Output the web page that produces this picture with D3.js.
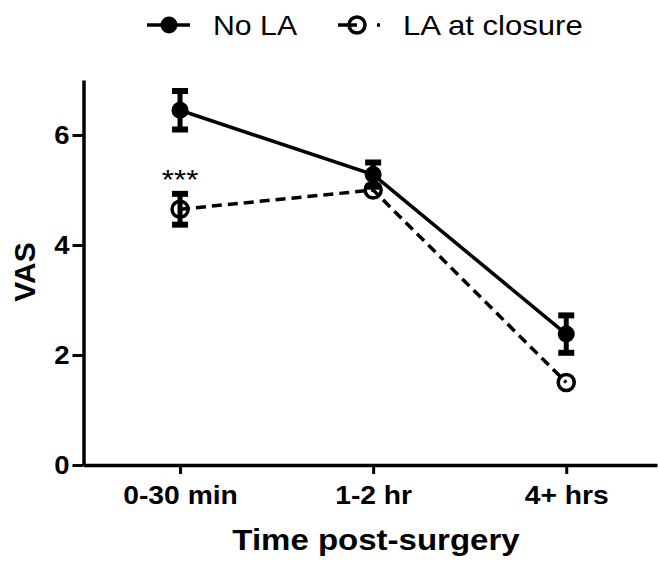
<!DOCTYPE html>
<html>
<head>
<meta charset="utf-8">
<script src="https://cdn.jsdelivr.net/npm/d3@7"></script>
<style>
  html, body { margin: 0; padding: 0; background: #fff; }
  svg { display: block; font-family: "Liberation Sans", Arial, sans-serif; }
</style>
</head>
<body>
<svg id="chart" width="658" height="562"></svg>
<script>
// Pain scores (VAS) after surgery, two groups, mean ± SEM
const categories = ["0-30 min", "1-2 hr", "4+ hrs"];
const noLAMean = [6.45, 5.28, 2.38];
const noLAErr  = [0.35, 0.22, 0.34];
const laMean   = [4.65, 5.0, 1.5];
const laErr    = [0.28, 0, 0];
const yTicks   = [0, 2, 4, 6];
const seriesNames = ["No LA", "LA at closure"];
const sigLabels = ["***", "", ""];

const svg = d3.select("#chart");

const x = d3.scaleLinear().domain([-0.5, 2.47]).range([83.5, 657]);
const y = d3.scaleLinear().domain([0, 7]).range([465, 80]);

// stretch text horizontally by factor k
function widen(sel, k) {
  sel.each(function () {
    const w = this.getComputedTextLength();
    d3.select(this).attr("textLength", w * k).attr("lengthAdjust", "spacingAndGlyphs");
  });
}

// Axes
const xAxis = svg.append("g")
  .attr("transform", `translate(0,${y(0)})`)
  .call(d3.axisBottom(x).tickValues([0, 1, 2]).tickFormat(i => categories[i])
    .tickSize(9).tickSizeOuter(0).tickPadding(12));
const yAxis = svg.append("g")
  .attr("transform", `translate(${x(-0.5)},0)`)
  .call(d3.axisLeft(y).tickValues(yTicks).tickFormat(d3.format("d"))
    .tickSize(11).tickSizeOuter(0).tickPadding(3));

[xAxis, yAxis].forEach(g => {
  g.select(".domain").attr("stroke", "#000").attr("stroke-width", 3.5);
  g.selectAll(".tick line").attr("stroke", "#000").attr("stroke-width", 3);
  g.selectAll(".tick text")
    .attr("fill", "#000")
    .style("font-family", "'Liberation Sans', Arial, sans-serif")
    .style("font-size", "25px")
    .style("font-weight", "bold");
});
widen(xAxis.selectAll(".tick text"), 1.13);
widen(yAxis.selectAll(".tick text"), 1.1);

// Axis titles
svg.append("text")
  .attr("x", 376).attr("y", 550)
  .attr("text-anchor", "middle")
  .style("font-size", "30px").style("font-weight", "bold")
  .text("Time post-surgery")
  .call(widen, 1.1);

svg.append("text")
  .attr("transform", `translate(35,${272}) rotate(-90)`)
  .attr("text-anchor", "middle")
  .style("font-size", "30px").style("font-weight", "bold")
  .text("VAS");

const line = d3.line().x((d, i) => x(i)).y(d => y(d));

// LA at closure series (dashed, open circles)
svg.append("path")
  .datum(laMean)
  .attr("d", line)
  .attr("fill", "none")
  .attr("stroke", "#000")
  .attr("stroke-width", 3.5)
  .attr("stroke-dasharray", "10,6");

// No LA series (solid, filled circles)
svg.append("path")
  .datum(noLAMean)
  .attr("d", line)
  .attr("fill", "none")
  .attr("stroke", "#000")
  .attr("stroke-width", 3.5);

function errorBars(means, errs) {
  const g = svg.append("g");
  means.forEach((m, i) => {
    if (!errs[i]) return;
    const cx = x(i);
    g.append("line")
      .attr("x1", cx).attr("x2", cx)
      .attr("y1", y(m - errs[i])).attr("y2", y(m + errs[i]))
      .attr("stroke", "#000").attr("stroke-width", 5);
    [m - errs[i], m + errs[i]].forEach(v => {
      g.append("line")
        .attr("x1", cx - 8).attr("x2", cx + 8)
        .attr("y1", y(v)).attr("y2", y(v))
        .attr("stroke", "#000").attr("stroke-width", 6);
    });
  });
}

errorBars(laMean, laErr);
svg.append("g").selectAll("circle")
  .data(laMean)
  .join("circle")
  .attr("cx", (d, i) => x(i)).attr("cy", d => y(d))
  .attr("r", 8)
  .attr("fill", "none")
  .attr("stroke", "#000").attr("stroke-width", 3.5);

errorBars(noLAMean, noLAErr);
svg.append("g").selectAll("circle")
  .data(noLAMean)
  .join("circle")
  .attr("cx", (d, i) => x(i)).attr("cy", d => y(d))
  .attr("r", 8.5)
  .attr("fill", "#000");

// Significance marks above the LA error bars
svg.append("g").selectAll("text")
  .data(sigLabels)
  .join("text")
  .attr("x", (d, i) => x(i))
  .attr("y", (d, i) => y(laMean[i] + laErr[i]) - 5)
  .attr("text-anchor", "middle")
  .style("font-size", "28px")
  .text(d => d)
  .call(widen, 1.12);

// Legend
const leg = svg.append("g");
leg.append("line")
  .attr("x1", 147).attr("x2", 190).attr("y1", 25).attr("y2", 25)
  .attr("stroke", "#000").attr("stroke-width", 3.5);
leg.append("circle").attr("cx", 169).attr("cy", 25).attr("r", 8.5).attr("fill", "#000");
leg.append("text").attr("x", 213).attr("y", 35)
  .style("font-size", "28px").text(seriesNames[0]).call(widen, 1.08);

leg.append("line")
  .attr("x1", 338).attr("x2", 380).attr("y1", 25).attr("y2", 25)
  .attr("stroke", "#000").attr("stroke-width", 3.5)
  .attr("stroke-dasharray", "19,20,3");
leg.append("circle").attr("cx", 357).attr("cy", 25).attr("r", 8)
  .attr("fill", "none").attr("stroke", "#000").attr("stroke-width", 3.5);
leg.append("text").attr("x", 403).attr("y", 35)
  .style("font-size", "28px").text(seriesNames[1]).call(widen, 1.11);
</script>
</body>
</html>
